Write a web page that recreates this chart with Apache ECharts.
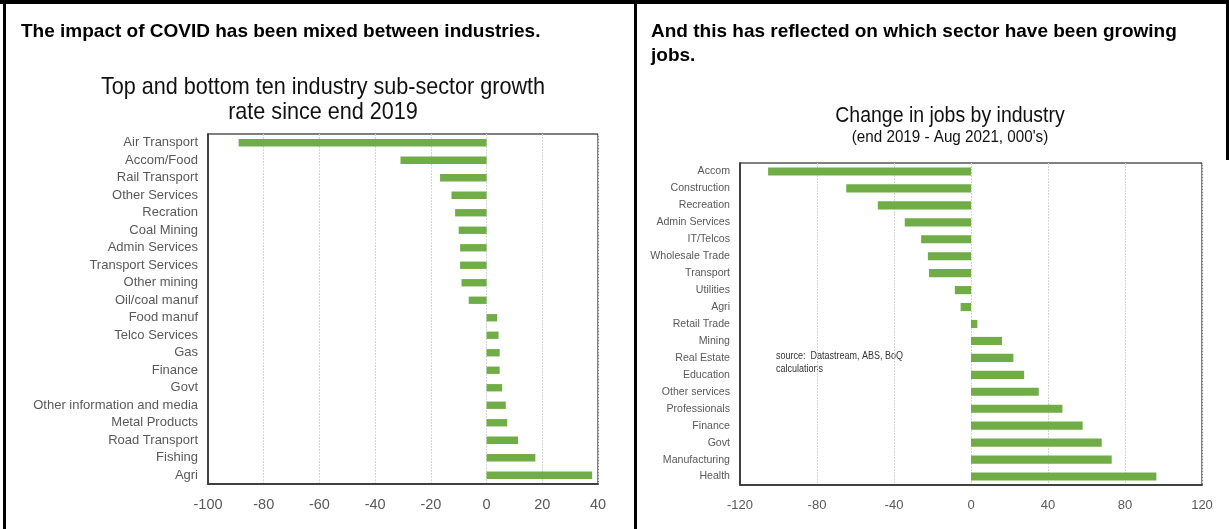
<!DOCTYPE html>
<html><head><meta charset="utf-8">
<script src="https://cdn.jsdelivr.net/npm/echarts@6/dist/echarts.min.js"></script>
<style>html,body{margin:0;padding:0;background:#fff}#c{width:1229px;height:529px}</style>
</head><body><div id="c"></div>
<script>
// ---- data: left chart (growth rate since end 2019, %) ----
const leftCategories = ['Air Transport','Accom/Food','Rail Transport','Other Services','Recration','Coal Mining','Admin Services','Transport Services','Other mining','Oil/coal manuf','Food manuf','Telco Services','Gas','Finance','Govt','Other information and media','Metal Products','Road Transport','Fishing','Agri'];
const leftValues = [-89.0,-30.9,-16.7,-12.6,-11.3,-10.0,-9.5,-9.5,-9.0,-6.4,3.8,4.3,4.7,4.7,5.6,6.9,7.4,11.3,17.5,37.9];
const leftTicks = [-100,-80,-60,-40,-20,0,20,40];

// ---- data: right chart (change in jobs, 000's) ----
const rightCategories = ['Accom','Construction','Recreation','Admin Services','IT/Telcos','Wholesale Trade','Transport','Utilities','Agri','Retail Trade','Mining','Real Estate','Education','Other services','Professionals','Finance','Govt','Manufacturing','Health'];
const rightValues = [-105.4,-64.8,-48.4,-34.4,-25.9,-22.4,-21.8,-8.4,-5.4,3.3,16.1,22.0,27.6,35.2,47.5,58.0,67.9,73.1,96.3];
const rightTicks = [-120,-80,-40,0,40,80,120];

// ---- texts ----
const leftHeader = 'The impact of COVID has been mixed between industries.';
const leftTitle = ['Top and bottom ten industry sub-sector growth','rate since end 2019'];
const rightHeader = ['And this has reflected on which sector have been growing','jobs.'];
const rightTitle = 'Change in jobs by industry';
const rightSubtitle = "(end 2019 - Aug 2021, 000's)";
const sourceNote = ['source:  Datastream, ABS, BoQ','calculations'];

const ARIAL = '"Liberation Sans",Arial,sans-serif';
const BAR = '#70AD47';
const LBL = '#595959';

function tickStep(t){ return t[1]-t[0]; }

const chart = echarts.init(document.getElementById('c'), null, {renderer:'canvas'});

function txt(x,y,text,font,opts,sx){
  return {type:'text', x:x, y:y, silent:true, scaleX:sx||1, scaleY:1,
    style:Object.assign({text:text, font:font, fill:'#000', textAlign:'left', textVerticalAlign:'middle'}, opts||{})};
}

const option = {
  animation:false,
  backgroundColor:'#fff',
  grid:[
    {left:208, top:134, width:390, height:350, show:true, borderColor:'#000', borderWidth:1, containLabel:false},
    {left:740, top:163, width:462, height:322, show:true, borderColor:'#000', borderWidth:1, containLabel:false}
  ],
  xAxis:[
    {gridIndex:0, type:'value', min:leftTicks[0], max:leftTicks[leftTicks.length-1], interval:tickStep(leftTicks),
     axisLine:{show:true, onZero:false, lineStyle:{color:'#404040', width:2}}, axisTick:{show:false},
     splitLine:{show:true, lineStyle:{color:'#d4d4d4', type:[2,1], width:1}},
     axisLabel:{fontFamily:ARIAL, fontSize:14.5, color:LBL, margin:13}},
    {gridIndex:1, type:'value', min:rightTicks[0], max:rightTicks[rightTicks.length-1], interval:tickStep(rightTicks),
     axisLine:{show:true, onZero:false, lineStyle:{color:'#404040', width:2}}, axisTick:{show:false},
     splitLine:{show:true, lineStyle:{color:'#d4d4d4', type:[2,1], width:1}},
     axisLabel:{fontFamily:ARIAL, fontSize:13, color:LBL, margin:14}}
  ],
  yAxis:[
    {gridIndex:0, type:'category', data:leftCategories, inverse:true,
     axisLine:{show:true, onZero:false, lineStyle:{color:'#404040', width:2}}, axisTick:{show:false},
     axisLabel:{fontFamily:ARIAL, fontSize:13, color:LBL, margin:10, interval:0}},
    {gridIndex:1, type:'category', data:rightCategories, inverse:true,
     axisLine:{show:true, onZero:false, lineStyle:{color:'#404040', width:2}}, axisTick:{show:false},
     axisLabel:{fontFamily:ARIAL, fontSize:10.6, color:LBL, margin:10, interval:0}}
  ],
  series:[
    {type:'bar', xAxisIndex:0, yAxisIndex:0, data:leftValues, barWidth:'42%', itemStyle:{color:BAR}},
    {type:'bar', xAxisIndex:1, yAxisIndex:1, data:rightValues, barWidth:'48%', itemStyle:{color:BAR}}
  ],
  graphic:[
    // frame
    {type:'rect', shape:{x:0,y:0,width:1229,height:4}, style:{fill:'#000'}, silent:true},
    {type:'rect', shape:{x:3,y:0,width:3,height:529}, style:{fill:'#000'}, silent:true},
    {type:'rect', shape:{x:634,y:0,width:3,height:529}, style:{fill:'#000'}, silent:true},
    {type:'rect', shape:{x:1226,y:0,width:3,height:160}, style:{fill:'#000'}, silent:true},
    // texts
    txt(21,32,leftHeader,'bold 19px '+ARIAL,null,1),
    txt(323,87,leftTitle[0],'24px '+ARIAL,{textAlign:'center', fill:'#111'},0.9),
    txt(323,112,leftTitle[1],'24px '+ARIAL,{textAlign:'center', fill:'#111'},0.9),
    txt(651,32,rightHeader[0],'bold 19px '+ARIAL,null,1),
    txt(651,56,rightHeader[1],'bold 19px '+ARIAL,null,1),
    txt(950,116,rightTitle,'22px '+ARIAL,{textAlign:'center', fill:'#111'},0.885),
    txt(950,138,rightSubtitle,'16px '+ARIAL,{textAlign:'center', fill:'#111'},0.95),
    txt(776,356,sourceNote[0],'10px '+ARIAL,{fill:'#333'},0.9),
    txt(776,369,sourceNote[1],'10px '+ARIAL,{fill:'#333'},0.9)
  ]
};
chart.setOption(option);
</script>
</body></html>
